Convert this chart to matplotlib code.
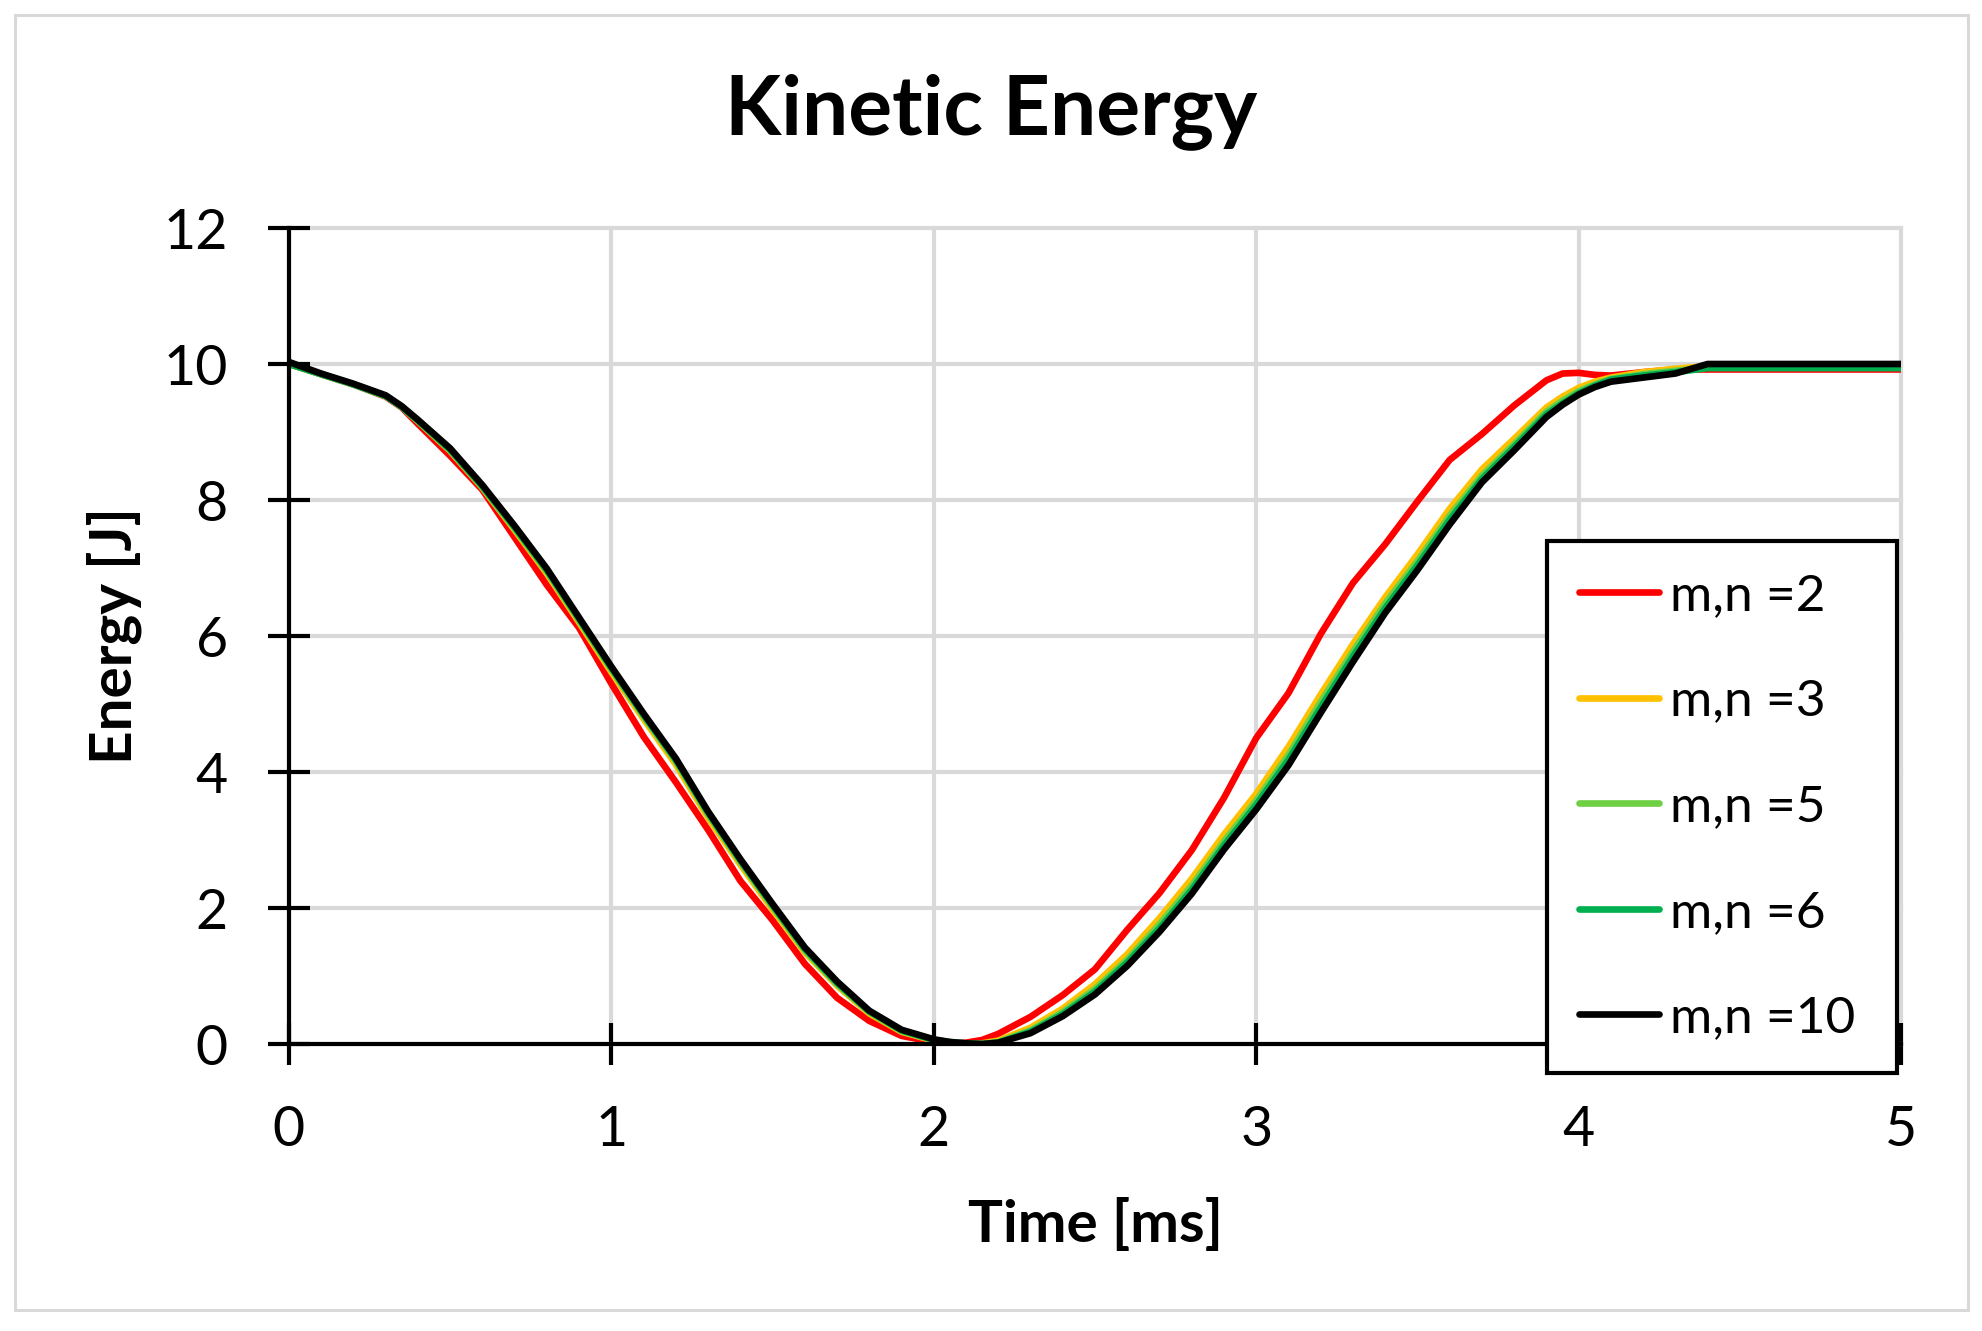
import matplotlib.pyplot as plt
from matplotlib.patches import Rectangle

plt.rcParams['font.family'] = ['Lato', 'DejaVu Sans']

# time [ms]
time = [0.0, 0.1, 0.2, 0.3, 0.35, 0.4, 0.5, 0.6, 0.7, 0.8, 0.9, 1.0, 1.1, 1.2, 1.3,
        1.4, 1.5, 1.6, 1.7, 1.8, 1.9, 2.0, 2.05, 2.1, 2.15, 2.2, 2.3, 2.4, 2.5, 2.6,
        2.7, 2.8, 2.9, 3.0, 3.1, 3.2, 3.3, 3.4, 3.5, 3.6, 3.7, 3.8, 3.9, 3.95, 4.0,
        4.05, 4.1, 4.2, 4.3, 4.4, 4.5, 5.0]

# kinetic energy [J]
e_mn2 = [10.0, 9.85, 9.70, 9.52, 9.36, 9.12, 8.65, 8.15, 7.45, 6.75, 6.12, 5.30, 4.52,
         3.85, 3.15, 2.40, 1.82, 1.18, 0.68, 0.34, 0.12, 0.03, 0.01, 0.02, 0.06, 0.15,
         0.40, 0.72, 1.10, 1.68, 2.22, 2.85, 3.62, 4.50, 5.16, 6.03, 6.78, 7.35, 7.98,
         8.59, 8.97, 9.39, 9.76, 9.86, 9.87, 9.84, 9.83, 9.88, 9.92, 9.92, 9.92, 9.92]
e_mn3 = [10.0, 9.85, 9.70, 9.53, 9.37, 9.16, 8.72, 8.18, 7.56, 6.92, 6.20, 5.47, 4.78,
         4.11, 3.33, 2.64, 1.98, 1.35, 0.86, 0.45, 0.18, 0.05, 0.02, 0.00, 0.01, 0.05,
         0.24, 0.52, 0.88, 1.32, 1.85, 2.43, 3.08, 3.68, 4.37, 5.14, 5.88, 6.57, 7.20,
         7.87, 8.45, 8.90, 9.36, 9.52, 9.65, 9.74, 9.80, 9.88, 9.93, 9.97, 9.97, 9.97]
e_mn5 = [10.0, 9.85, 9.70, 9.53, 9.37, 9.16, 8.73, 8.19, 7.58, 6.95, 6.23, 5.51, 4.82,
         4.16, 3.38, 2.68, 2.02, 1.38, 0.88, 0.47, 0.19, 0.06, 0.02, 0.00, 0.00, 0.03,
         0.20, 0.47, 0.81, 1.24, 1.76, 2.33, 2.98, 3.58, 4.25, 5.03, 5.77, 6.48, 7.10,
         7.77, 8.36, 8.82, 9.30, 9.46, 9.60, 9.70, 9.78, 9.85, 9.90, 9.95, 9.95, 9.95]
e_mn6 = [10.0, 9.85, 9.70, 9.53, 9.37, 9.17, 8.74, 8.20, 7.60, 6.97, 6.25, 5.53, 4.84,
         4.18, 3.40, 2.70, 2.04, 1.40, 0.90, 0.48, 0.20, 0.06, 0.03, 0.01, 0.00, 0.02,
         0.18, 0.44, 0.77, 1.20, 1.70, 2.27, 2.92, 3.52, 4.18, 4.95, 5.70, 6.41, 7.04,
         7.71, 8.31, 8.78, 9.26, 9.42, 9.57, 9.68, 9.77, 9.83, 9.88, 9.94, 9.94, 9.94]
e_mn10 = [10.03, 9.86, 9.71, 9.54, 9.38, 9.18, 8.76, 8.22, 7.62, 6.99, 6.27, 5.55, 4.86,
          4.20, 3.42, 2.72, 2.06, 1.42, 0.92, 0.49, 0.21, 0.07, 0.03, 0.01, 0.00, 0.02,
          0.16, 0.41, 0.73, 1.15, 1.65, 2.21, 2.86, 3.45, 4.10, 4.87, 5.62, 6.34, 6.97,
          7.64, 8.26, 8.73, 9.22, 9.40, 9.55, 9.66, 9.74, 9.80, 9.86, 10.0, 10.0, 10.0]

series = [e_mn2, e_mn3, e_mn5, e_mn6, e_mn10]
labels = ['m,n =2', 'm,n =3', 'm,n =5', 'm,n =6', 'm,n =10']
colors = ['#FF0000', '#FFC000', '#70D044', '#00B050', '#000000']

fig = plt.figure(figsize=(19.83, 13.31), dpi=100)
ax = fig.add_axes([0.1457, 0.2156, 0.8130, 0.6131])

for vals, lab, col in zip(series, labels, colors):
    ax.plot(time, vals, color=col, lw=4.8, label=lab, solid_capstyle='round')

ax.set_xlim(0, 5)
ax.set_ylim(0, 12)
ax.set_xticks(range(0, 6))
ax.set_yticks(range(0, 13, 2))

ax.grid(True, color='#D9D9D9', lw=3.0)
ax.set_axisbelow(True)
for gl in ax.get_xgridlines() + ax.get_ygridlines():
    gl.set_clip_on(False)

for s in ['top', 'right']:
    ax.spines[s].set_visible(False)
for s in ['left', 'bottom']:
    ax.spines[s].set_linewidth(3.0)
    ax.spines[s].set_color('black')

ax.tick_params(axis='both', direction='inout', length=30, width=3.0,
               labelsize=40, pad=29, colors='black')

ax.set_xlabel('Time [ms]', fontsize=42, fontweight='bold', va='baseline')
ax.xaxis.set_label_coords(0.5, -0.2426)
ax.set_ylabel('Energy [J]', fontsize=42, fontweight='bold', va='baseline')
ax.yaxis.set_label_coords(-0.0974, 0.5)

fig.text(0.5, 0.8993, 'Kinetic Energy', fontsize=59, fontweight='bold',
         ha='center', va='baseline')

leg = ax.legend(loc='upper left', bbox_to_anchor=(0.7801, 0.5935, 0.1765, 0.0),
                bbox_transform=fig.transFigure, mode='expand', borderaxespad=0,
                fontsize=37, handlelength=1.57, handletextpad=0.2, borderpad=0.62,
                labelspacing=1.16, fancybox=False, framealpha=1)
leg.get_frame().set_edgecolor('black')
leg.get_frame().set_linewidth(3.0)

# light grey chart border
fig.patches.append(Rectangle((0.0076, 0.0158), 0.9849, 0.9730, transform=fig.transFigure,
                             fill=False, edgecolor='#D9D9D9', lw=2.2))

plt.savefig('out.png', dpi=100)
